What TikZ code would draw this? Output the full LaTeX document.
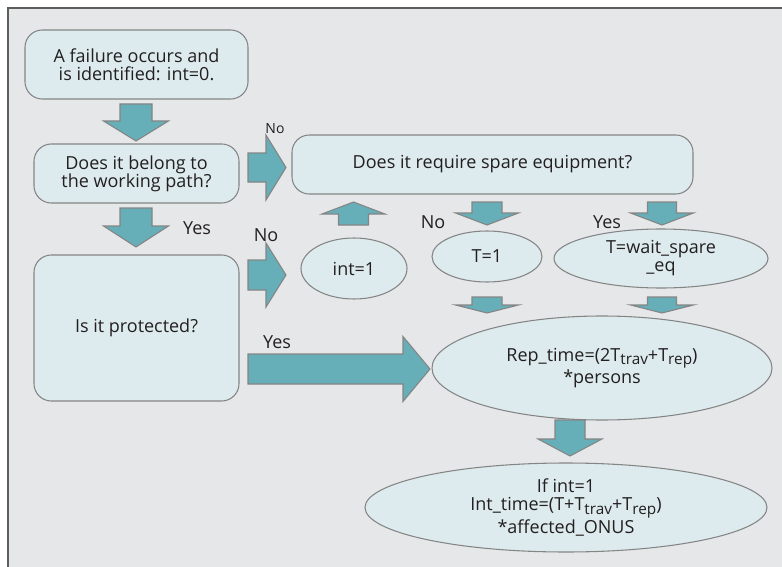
\documentclass[tikz,border=0pt]{standalone}
\usepackage{fontspec}
\setmainfont{Open Sans}
\usetikzlibrary{shapes.geometric}
\definecolor{framebg}{HTML}{E6E7E8}
\definecolor{boxfill}{HTML}{DDEBEE}
\definecolor{arrowfill}{HTML}{66AEB8}
\definecolor{edgegray}{HTML}{858585}
\definecolor{txt}{HTML}{231F20}
\newcommand\mysub[1]{\raisebox{-0.35ex}{\fontsize{11.5}{11.5}\selectfont #1}}
\newcommand\darrow[6]{\draw[blockarrow] ({#1-#5},#2) -- ({#1+#5},#2) -- ({#1+#5},#3) -- ({#1+#6},#3) -- (#1,#4) -- ({#1-#6},#3) -- ({#1-#5},#3) -- cycle;}
\newcommand\rarrow[6]{\draw[blockarrow] (#2,{#1-#5}) -- (#2,{#1+#5}) -- (#3,{#1+#5}) -- (#3,{#1+#6}) -- (#4,#1) -- (#3,{#1-#6}) -- (#3,{#1-#5}) -- cycle;}
\begin{document}
\begin{tikzpicture}[x=0.75pt,y=-0.75pt,
  every node/.style={text=txt, font=\fontsize{13.5}{13.5}\selectfont},
  rbox/.style={draw=edgegray, fill=boxfill, line width=0.8pt, rounded corners=13pt, align=center, inner sep=0pt},
  ellbox/.style={draw=edgegray, fill=boxfill, line width=0.8pt, ellipse, align=center, inner sep=0pt},
  blockarrow/.style={draw=edgegray, fill=arrowfill, line width=0.8pt, line join=miter},
  lbl/.style={inner sep=0pt},
  ]
\useasboundingbox (0,0) rectangle (782,567);
\clip (0,0) rectangle (782,567);
\draw[fill=framebg, draw=edgegray!70!black, line width=1.1pt] (8,8) rectangle (800,600);

\node[rbox, minimum width=167.25pt, minimum height=51.75pt] (fail) at (136.5,64.5) {A failure occurs and\\is identified: int=0.};
\node[rbox, minimum width=153.75pt, minimum height=44.25pt] (work) at (136.5,173.5) {Does it belong to\\the working path?};
\node[rbox, minimum width=153.75pt, minimum height=109.5pt] (prot) at (136.5,328) {Is it protected?};
\node[rbox, minimum width=300.75pt, minimum height=44.25pt] (spare) at (492.5,164.5) {Does it require spare equipment?};
\node[ellbox, minimum width=79.5pt, minimum height=45.75pt] (int) at (354,268.5) {int=1};
\node[ellbox, minimum width=82.5pt, minimum height=38.25pt] (tone) at (487,256.5) {T=1};
\node[ellbox, minimum width=160.5pt, minimum height=44.25pt] (twait) at (661,258.5) {T=wait\_spare\\\_eq};
\node[ellbox, minimum width=255pt, minimum height=78pt] (rep) at (602,368) {Rep\_time=(2T\mysub{trav}+T\mysub{rep})\\*persons};
\node[ellbox, minimum width=301.5pt, minimum height=66.75pt] (inttime) at (566,507.5) {If int=1\\Int\_time=(T+T\mysub{trav}+T\mysub{rep})\\*affected\_ONUS};

% block arrows
\darrow{136}{104}{121}{141}{16}{32.5}
\darrow{136}{208}{226}{247}{16}{32.5}
\darrow{487}{202}{213}{225}{15}{31.5}
\darrow{662}{202}{213}{225}{14.5}{31.5}
\darrow{487}{297}{305}{313}{15}{31.5}
\darrow{662}{297}{305}{313}{14.5}{31.5}
\darrow{570}{420}{439}{456}{15}{32}
\darrow{353.5}{225}{214}{202}{15}{31.5}
\rarrow{167.5}{248}{266}{286}{14.5}{32.5}
\rarrow{275}{248}{266}{286}{15}{32}
\rarrow{369}{248}{403}{430}{15}{32.5}

% labels
\node[lbl, font=\fontsize{10.5}{10.5}\selectfont] (no1) at (275,129) {No};
\node[lbl] (yes1) at (197,228) {Yes};
\node[lbl] (no2) at (266,235) {No};
\node[lbl] (yes2) at (277,342) {Yes};
\node[lbl] (no3) at (433,222) {No};
\node[lbl] (yes3) at (607,222) {Yes};
\end{tikzpicture}
\end{document}
